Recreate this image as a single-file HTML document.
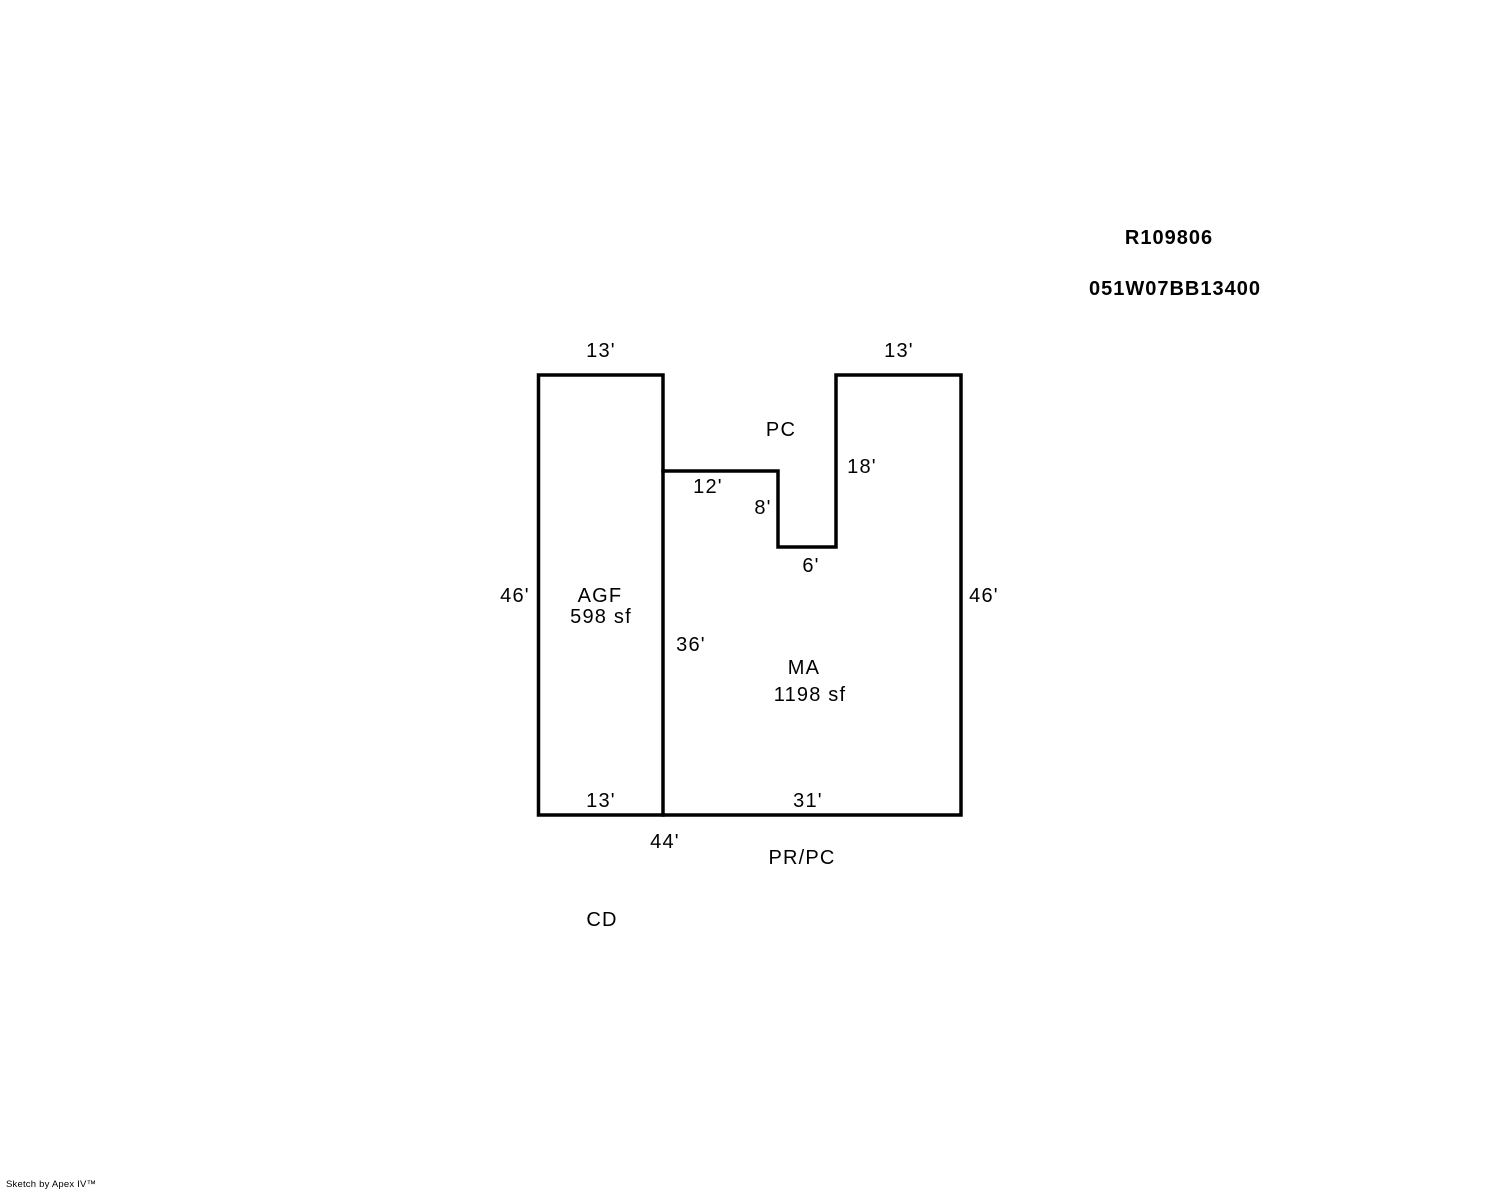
<!DOCTYPE html>
<html><head><style>
html,body{margin:0;padding:0;background:#fff;}
svg{display:block;}
text{font-family:"Liberation Sans",Arial,sans-serif;font-size:20px;fill:#000;letter-spacing:1.2px;}
.b{font-weight:bold;letter-spacing:1px;}
</style></head><body>
<svg width="1488" height="1190" viewBox="0 0 1488 1190" xmlns="http://www.w3.org/2000/svg">
<g fill="none" stroke="#000" stroke-width="3.5" stroke-linecap="square">
<rect x="538.5" y="375" width="124.5" height="440"/>
<polyline points="663,815 961,815 961,375 836,375 836,547 778,547 778,471 663,471"/>
</g>
<g text-anchor="middle">
<text class="b" x="1169" y="244">R109806</text>
<text class="b" x="1175" y="295">051W07BB13400</text>
<text x="601" y="357">13'</text>
<text x="899" y="357">13'</text>
<text x="781" y="436">PC</text>
<text x="862" y="473">18'</text>
<text x="708" y="493">12'</text>
<text x="763" y="514">8'</text>
<text x="811" y="572">6'</text>
<text x="515" y="602">46'</text>
<text x="984" y="602">46'</text>
<text x="600" y="602">AGF</text>
<text x="601" y="623">598 sf</text>
<text x="691" y="651">36'</text>
<text x="804" y="674">MA</text>
<text x="810" y="701">1198 sf</text>
<text x="601" y="807">13'</text>
<text x="808" y="807">31'</text>
<text x="665" y="848">44'</text>
<text x="802" y="864">PR/PC</text>
<text x="602" y="926">CD</text>
</g>
<text x="6" y="1187" style="font-size:9.5px;letter-spacing:0.2px">Sketch by Apex IV™</text>
</svg>
</body></html>
